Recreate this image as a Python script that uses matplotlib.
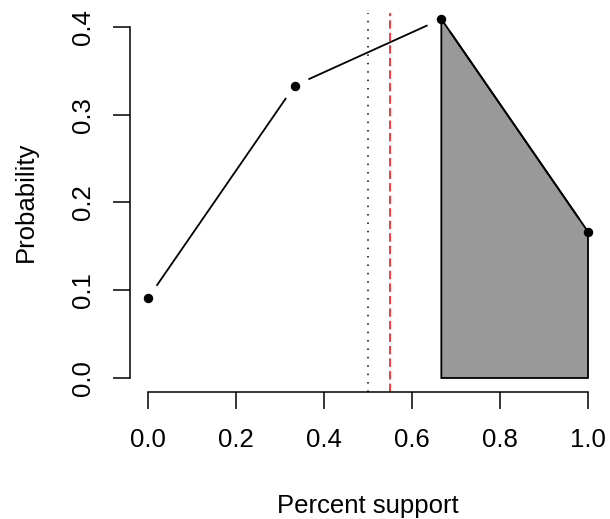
import matplotlib
matplotlib.use('Agg')
import matplotlib.pyplot as plt
import numpy as np

plt.rcParams['font.family'] = ['Liberation Sans', 'DejaVu Sans']

support = [0.0, 1/3, 2/3, 1.0]
prob = [0.0909, 0.3333, 0.4091, 0.1667]
null_line = 0.5
obs_line = 0.55
xticks = [0.0, 0.2, 0.4, 0.6, 0.8, 1.0]
yticks = [0.0, 0.1, 0.2, 0.3, 0.4]

W, H = 610, 519
fig = plt.figure(figsize=(W/100, H/100), dpi=100)
ax = fig.add_axes([130.4/W, 1-392/H, (605.6-130.4)/W, (392-13)/H])
ax.set_xlim(-0.04, 1.04)
ax.set_ylim(-0.016, 0.416)

# shaded tail
tail = [i for i, s in enumerate(support) if s >= 0.6]
px = [support[tail[0]]] + [support[i] for i in tail] + [support[tail[-1]]]
py = [0] + [prob[i] for i in tail] + [0]
ax.fill(px, py, facecolor='#999999', edgecolor='black', lw=1.3, zorder=2)

ax.axvline(null_line, color='black', ls=(0, (1, 4.5)), lw=1.1, zorder=1)
ax.axvline(obs_line, color='red', ls=(0, (5.5, 2.7)), lw=1.1, zorder=1)

# R type="b": segments with gaps around points
fig.canvas.draw()
pts = ax.transData.transform(np.column_stack([support, prob]))
gap = 16
inv = ax.transData.inverted()
for a, b in zip(pts[:-1], pts[1:]):
    u = (b - a) / np.hypot(*(b - a))
    s = inv.transform([a + u*gap, b - u*gap])
    ax.plot(s[:, 0], s[:, 1], color='black', lw=1.3, zorder=3)
ax.plot(support, prob, 'o', color='black', ms=5.8, zorder=4)

for sp in ['top', 'right']:
    ax.spines[sp].set_visible(False)
ax.spines['left'].set_bounds(0, 0.4)
ax.spines['bottom'].set_bounds(0, 1)
for sp in ['left', 'bottom']:
    ax.spines[sp].set_linewidth(1.1)
ax.set_xticks(xticks)
ax.set_yticks(yticks)
ax.set_xticklabels([f'{v:.1f}' for v in xticks])
ax.set_yticklabels([f'{v:.1f}' for v in yticks], rotation=90, va='center')
ax.tick_params(length=12.2, width=1.1, labelsize=18.5)
ax.tick_params(axis='x', pad=13.5)
ax.tick_params(axis='y', pad=13.5)

fig.text(368/W, 1-513/H, 'Percent support', fontsize=18.5, ha='center', va='baseline')
fig.text(33/W, 1-202/H, 'Probability', fontsize=18.5, rotation=90,
         rotation_mode='anchor', ha='center', va='baseline')

fig.savefig('out.png', dpi=100)
